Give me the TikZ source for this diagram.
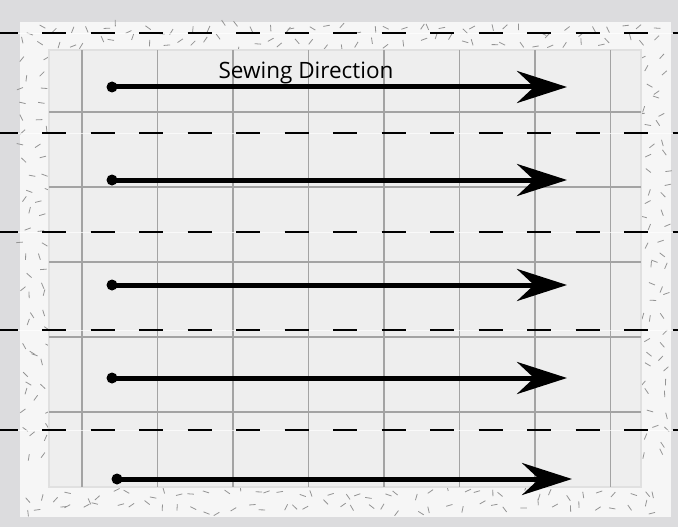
\documentclass[tikz,border=0pt]{standalone}
\usepackage{fontspec}
\setmainfont{Open Sans}
\usepackage{tikz}
\usetikzlibrary{arrows.meta}
\definecolor{outergray}{HTML}{DCDCDE}
\definecolor{panelgray}{HTML}{F6F6F6}
\definecolor{fabricgray}{HTML}{EEEEEE}
\definecolor{gridgray}{HTML}{A3A3A3}
\tikzstyle{stitchdot} = [circle, fill=black, inner sep=0pt, minimum size=11pt]
\tikzstyle{sewarrow} = [line width=5pt, -{Stealth[length=50pt, width=32pt, inset=17pt]}]
\tikzstyle{seamline} = [line width=2pt, dash pattern=on 24pt off 24.5pt, dash phase=6.5pt]
\tikzstyle{gridline} = [draw=gridgray, line width=1.2pt]
\tikzstyle{speck} = [draw=black!42, line width=0.8pt]
\tikzstyle{caption} = [font=\fontsize{22.5}{26}\selectfont, anchor=base]

\begin{document}
\begin{tikzpicture}[x=1pt, y=-1pt]
        \useasboundingbox (0,0) rectangle (678,527);

        % Background and panel
        \fill[outergray] (0,0) rectangle (678,527);
        \fill[panelgray] (20,22) rectangle (671,517);

        % Speckled border
        \pgfmathsetseed{5}
        \foreach \xa/\ya/\nx/\ny in {27/29/42/1, 27/494/42/1, 27/60/1/28, 648/60/1/28}{
            \foreach \i in {0,...,\nx}{
                \foreach \j in {0,...,\ny}{
                    \pgfmathsetmacro{\px}{\xa+15*\i+9*(rnd-0.5)}
                    \pgfmathsetmacro{\py}{\ya+14*\j+9*(rnd-0.5)}
                    \pgfmathsetmacro{\pa}{360*rnd}
                    \draw[speck] (\px,\py) -- ++(\pa:6.5);
                }
            }
        }

        % Fabric grid
        \fill[fabricgray, draw=black!12, line width=1.5pt] (49,50) rectangle (641,487);
        \foreach \gx in {82,157.5,233,308.5,384,459.5,535,610.5}
            \draw[gridline] (\gx,50) -- (\gx,487);
        \foreach \gy in {112,187,262,337,412}
            \draw[gridline] (49,\gy) -- (641,\gy);

        % Seam lines
        \foreach \sy in {33,133,232,330,430}{
            \draw[white, opacity=0.7, line width=0.8pt] (0,\sy) -- (678,\sy);
            \draw[seamline] (0,\sy) -- (678,\sy);
        }

        % Nodes
        \node (title) [caption] at (306,78) {Sewing Direction};
        \node (s1) [stitchdot] at (112,87) {};
        \node (s2) [stitchdot] at (112,180) {};
        \node (s3) [stitchdot] at (112,285) {};
        \node (s4) [stitchdot] at (112,378) {};
        \node (s5) [stitchdot] at (117,479) {};
        \coordinate (e1) at (567,87);
        \coordinate (e2) at (567,180);
        \coordinate (e3) at (567,285);
        \coordinate (e4) at (567,378);
        \coordinate (e5) at (572,479);

        % Arrows
        \draw [sewarrow] (s1.center) -- (e1);
        \draw [sewarrow] (s2.center) -- (e2);
        \draw [sewarrow] (s3.center) -- (e3);
        \draw [sewarrow] (s4.center) -- (e4);
        \draw [sewarrow] (s5.center) -- (e5);

\end{tikzpicture}
\end{document}
